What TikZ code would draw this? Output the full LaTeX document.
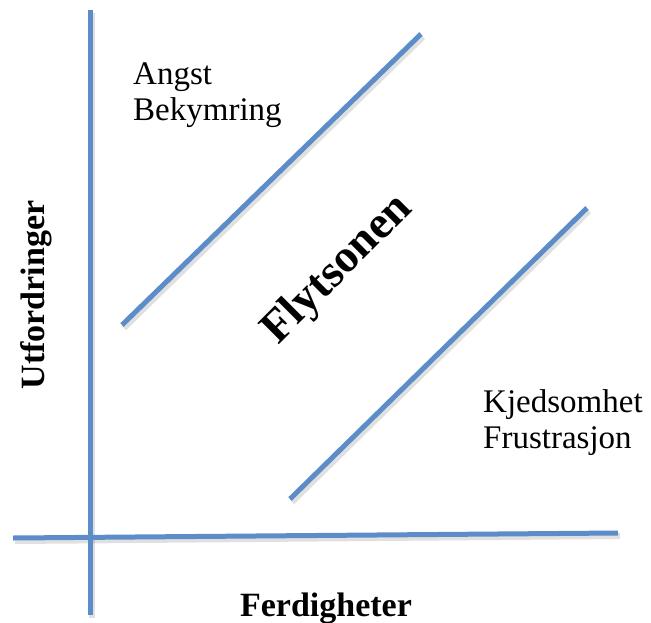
\documentclass[tikz,border=0pt]{standalone}
\usepackage{fontspec}
\setmainfont{Liberation Serif}
\begin{document}
\begin{tikzpicture}[x=1pt,y=-1pt,
  axisline/.style={line width=5pt, draw=lineblue},
  shadowline/.style={line width=6pt, draw=black, opacity=0.12},
  plain/.style={inner sep=0pt, font=\fontsize{33}{36}\selectfont},
  boldlabel/.style={inner sep=0pt, font=\fontsize{34}{38}\selectfont\bfseries}]
\definecolor{lineblue}{RGB}{92,141,201}
\useasboundingbox (0,0) rectangle (651,622);
% endpoints
\coordinate (vt) at (90,10);
\coordinate (vb) at (90,615);
\coordinate (hl) at (13,538);
\coordinate (hr) at (618,533);
\coordinate (ua) at (122,325);
\coordinate (ub) at (421,34);
\coordinate (la) at (290,499);
\coordinate (lb) at (587,208);
% shadows
\foreach \a/\b in {vt/vb,hl/hr,ua/ub,la/lb}
  \draw[shadowline] ([shift={(2,3)}]\a) -- ([shift={(2,3)}]\b);
% lines
\draw[axisline] (vt) -- (vb);
\draw[axisline] (hl) -- (hr);
\draw[axisline] (ua) -- (ub);
\draw[axisline] (la) -- (lb);
% texts
\node[plain, anchor=base west] (angst) at (133,84) {Angst};
\node[plain, anchor=base west] (bekym) at (133,120) {Bekymring};
\node[plain, anchor=base west] (kjed) at (483,412) {Kjedsomhet};
\node[plain, anchor=base west] (frust) at (483,448) {Frustrasjon};
\node[boldlabel, font=\fontsize{46}{50}\selectfont\bfseries, rotate=45] (flyt) at (338,270) {Flytsonen};
\node[boldlabel, rotate=90] (utf) at (36,295) {Utfordringer};
\node[boldlabel, anchor=base] (ferd) at (326,616) {Ferdigheter};
\end{tikzpicture}
\end{document}
